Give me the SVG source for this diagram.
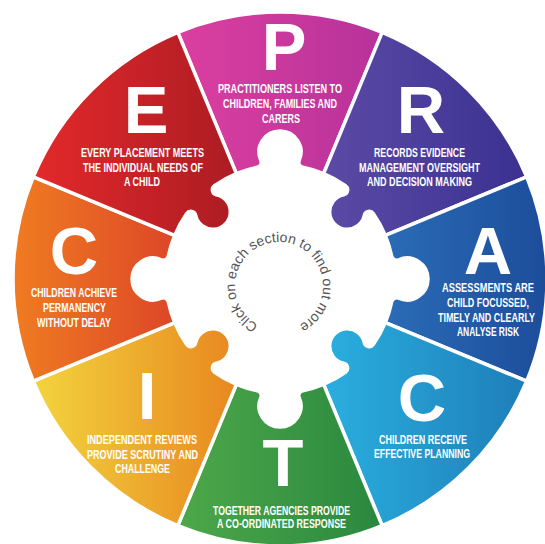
<svg xmlns="http://www.w3.org/2000/svg" xmlns:xlink="http://www.w3.org/1999/xlink" width="545" height="544" viewBox="0 0 545 544">
<style>
.piece{stroke:#fff;stroke-width:3.5;stroke-linejoin:round}
.big{font-family:"Liberation Sans",Arial,sans-serif;font-weight:700;font-size:67px;fill:#fff;text-anchor:middle}
.sub{font-family:"Liberation Sans Narrow","Liberation Sans",Arial,sans-serif;font-weight:700;font-size:13px;fill:#fff;text-anchor:middle}
.curve{font-family:"Liberation Sans",Arial,sans-serif;font-size:14px;fill:#555}
</style>
<defs>
<path id="pieceA" d="M -43.626,-105.322 L -102.176,-246.676 A 267 267 0 0 1 102.176,-246.676 L 43.626,-105.322 A 114 114 0 0 0 22.822,-111.692 A 5 5 0 0 1 19.242,-118.593 A 21 21 0 1 0 -19.242,-118.593 A 5 5 0 0 1 -22.822,-111.692 A 114 114 0 0 0 -43.626,-105.322 Z"/>
<path id="pieceB" d="M -43.626,-105.322 L -102.176,-246.676 A 267 267 0 0 1 102.176,-246.676 L 43.626,-105.322 A 114 114 0 0 0 19.659,-112.292 A 5 5 0 0 0 14.620,-104.619 A 17.5 17.5 0 1 1 -14.620,-104.619 A 5 5 0 0 0 -19.659,-112.292 A 114 114 0 0 0 -43.626,-105.322 Z"/>
<linearGradient id="gP" gradientUnits="userSpaceOnUse" x1="-102" y1="0" x2="102" y2="0"><stop offset="0" stop-color="#dc3f9f"/><stop offset="1" stop-color="#b7329b"/></linearGradient>
<linearGradient id="gR" gradientUnits="userSpaceOnUse" x1="40" y1="0" x2="250" y2="0" gradientTransform="rotate(-45)"><stop offset="0" stop-color="#5c4ba6"/><stop offset="1" stop-color="#3a3090"/></linearGradient>
<linearGradient id="gA" gradientUnits="userSpaceOnUse" x1="100" y1="0" x2="265" y2="0" gradientTransform="rotate(-90)"><stop offset="0" stop-color="#2b6db8"/><stop offset="1" stop-color="#1c4d9b"/></linearGradient>
<linearGradient id="gC2" gradientUnits="userSpaceOnUse" x1="40" y1="0" x2="250" y2="0" gradientTransform="rotate(-135)"><stop offset="0" stop-color="#2ab0e0"/><stop offset="1" stop-color="#1e7db8"/></linearGradient>
<linearGradient id="gT" gradientUnits="userSpaceOnUse" x1="-102" y1="0" x2="102" y2="0" gradientTransform="rotate(-180)"><stop offset="0" stop-color="#4da849"/><stop offset="1" stop-color="#2a883f"/></linearGradient>
<linearGradient id="gI" gradientUnits="userSpaceOnUse" x1="-250" y1="0" x2="-40" y2="0" gradientTransform="rotate(-225)"><stop offset="0" stop-color="#f3d53e"/><stop offset="1" stop-color="#e8861f"/></linearGradient>
<linearGradient id="gC1" gradientUnits="userSpaceOnUse" x1="-267" y1="0" x2="-100" y2="0" gradientTransform="rotate(-270)"><stop offset="0" stop-color="#f07c22"/><stop offset="1" stop-color="#dc4527"/></linearGradient>
<linearGradient id="gE" gradientUnits="userSpaceOnUse" x1="-250" y1="0" x2="-40" y2="0" gradientTransform="rotate(-315)"><stop offset="0" stop-color="#e4292b"/><stop offset="1" stop-color="#ab1c23"/></linearGradient>
<path id="ring" d="M 258.34,324.85 A 44 44 0 1 1 299.66,247.15 A 44 44 0 1 1 258.34,324.85"/>
</defs>
<rect width="545" height="544" fill="#fff"/>

<g id="seg-p">
<use href="#pieceA" xlink:href="#pieceA" class="piece" fill="url(#gP)" transform="translate(280 279)"/>
<text class="big" x="284" y="70">P</text>
<text class="sub" x="280" y="93" textLength="124" lengthAdjust="spacingAndGlyphs">PRACTITIONERS LISTEN TO</text>
<text class="sub" x="280" y="108" textLength="114" lengthAdjust="spacingAndGlyphs">CHILDREN, FAMILIES AND</text>
<text class="sub" x="281" y="123" textLength="38" lengthAdjust="spacingAndGlyphs">CARERS</text>
</g>

<g id="seg-r">
<use href="#pieceB" xlink:href="#pieceB" class="piece" fill="url(#gR)" transform="translate(280 279) rotate(45)"/>
<text class="big" x="421" y="133">R</text>
<text class="sub" x="419.5" y="157" textLength="91" lengthAdjust="spacingAndGlyphs">RECORDS EVIDENCE</text>
<text class="sub" x="419.5" y="172" textLength="121" lengthAdjust="spacingAndGlyphs">MANAGEMENT OVERSIGHT</text>
<text class="sub" x="419.5" y="186" textLength="105" lengthAdjust="spacingAndGlyphs">AND DECISION MAKING</text>
</g>

<g id="seg-a">
<use href="#pieceA" xlink:href="#pieceA" class="piece" fill="url(#gA)" transform="translate(280 279) rotate(90)"/>
<text class="big" x="488" y="274">A</text>
<text class="sub" x="488" y="292" textLength="92" lengthAdjust="spacingAndGlyphs">ASSESSMENTS ARE</text>
<text class="sub" x="488" y="307" textLength="82" lengthAdjust="spacingAndGlyphs">CHILD FOCUSSED,</text>
<text class="sub" x="486.5" y="322" textLength="97" lengthAdjust="spacingAndGlyphs">TIMELY AND CLEARLY</text>
<text class="sub" x="488" y="336" textLength="62" lengthAdjust="spacingAndGlyphs">ANALYSE RISK</text>
</g>

<g id="seg-c-planning">
<use href="#pieceB" xlink:href="#pieceB" class="piece" fill="url(#gC2)" transform="translate(280 279) rotate(135)"/>
<text class="big" x="422" y="421">C</text>
<text class="sub" x="423" y="444" textLength="88" lengthAdjust="spacingAndGlyphs">CHILDREN RECEIVE</text>
<text class="sub" x="422" y="458" textLength="96" lengthAdjust="spacingAndGlyphs">EFFECTIVE PLANNING</text>
</g>

<g id="seg-t">
<use href="#pieceA" xlink:href="#pieceA" class="piece" fill="url(#gT)" transform="translate(280 279) rotate(180)"/>
<text class="big" x="283" y="486">T</text>
<text class="sub" x="281.5" y="515" textLength="137" lengthAdjust="spacingAndGlyphs">TOGETHER AGENCIES PROVIDE</text>
<text class="sub" x="281.5" y="528" textLength="129" lengthAdjust="spacingAndGlyphs">A CO-ORDINATED RESPONSE</text>
</g>

<g id="seg-i">
<use href="#pieceB" xlink:href="#pieceB" class="piece" fill="url(#gI)" transform="translate(280 279) rotate(225)"/>
<text class="big" x="147" y="419">I</text>
<text class="sub" x="142" y="444" textLength="110" lengthAdjust="spacingAndGlyphs">INDEPENDENT REVIEWS</text>
<text class="sub" x="142.5" y="459" textLength="111" lengthAdjust="spacingAndGlyphs">PROVIDE SCRUTINY AND</text>
<text class="sub" x="142.5" y="473" textLength="55" lengthAdjust="spacingAndGlyphs">CHALLENGE</text>
</g>

<g id="seg-c-permanency">
<use href="#pieceA" xlink:href="#pieceA" class="piece" fill="url(#gC1)" transform="translate(280 279) rotate(270)"/>
<text class="big" x="74" y="274">C</text>
<text class="sub" x="74" y="297" textLength="86" lengthAdjust="spacingAndGlyphs">CHILDREN ACHIEVE</text>
<text class="sub" x="74.5" y="312" textLength="63" lengthAdjust="spacingAndGlyphs">PERMANENCY</text>
<text class="sub" x="74" y="327" textLength="74" lengthAdjust="spacingAndGlyphs">WITHOUT DELAY</text>
</g>

<g id="seg-e">
<use href="#pieceB" xlink:href="#pieceB" class="piece" fill="url(#gE)" transform="translate(280 279) rotate(315)"/>
<text class="big" x="146" y="133">E</text>
<text class="sub" x="142.5" y="157" textLength="123" lengthAdjust="spacingAndGlyphs">EVERY PLACEMENT MEETS</text>
<text class="sub" x="143" y="172" textLength="120" lengthAdjust="spacingAndGlyphs">THE INDIVIDUAL NEEDS OF</text>
<text class="sub" x="142" y="186" textLength="36" lengthAdjust="spacingAndGlyphs">A CHILD</text>
</g>

<g id="center-label">
<text class="curve"><textPath href="#ring" xlink:href="#ring">Click on each section to find out more</textPath></text>
</g>
</svg>
